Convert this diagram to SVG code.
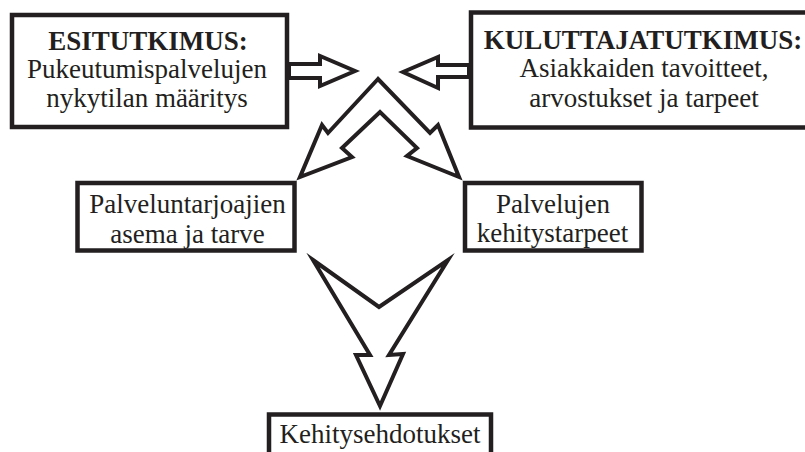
<svg xmlns="http://www.w3.org/2000/svg" width="805" height="452" viewBox="0 0 805 452">
<style>
.box{fill:#fff;stroke:#231f20;stroke-width:4.5}
.t{font-family:"Liberation Serif","Times New Roman",serif;font-size:27px;fill:#231f20;text-anchor:middle}
.b{font-weight:bold}
.arr{fill:#fff;stroke:#231f20;stroke-width:4;stroke-linejoin:miter;stroke-miterlimit:10}
</style>
<rect width="805" height="452" fill="#fff"/>
<g id="connectors">
<polygon class="arr" points="289,64 320,64 320,56 355,71 320,86 320,78 289,78"/>
<polygon class="arr" points="469,65 438,65 438,57 403,72 438,88 438,77 469,77"/>
<polygon class="arr" points="378,79 328,133 322,125 300,177 352,157 342,148 380,112 417,148 407,156 459,177 438,125 430,133"/>
<polygon class="arr" points="313,260 379,307 448,260 389,355 403,354 380,406 356,355 370,355"/>
</g>
<g id="esitutkimus">
<rect class="box" x="12" y="15" width="275" height="112"/>
<text class="t b" x="148" y="49.5">ESITUTKIMUS:</text>
<text class="t" x="147" y="78">Pukeutumispalvelujen</text>
<text class="t" x="147" y="107">nykytilan määritys</text>
</g>
<g id="kuluttajatutkimus">
<rect class="box" x="471" y="12.5" width="344" height="115"/>
<text class="t b" x="643" y="48.5">KULUTTAJATUTKIMUS:</text>
<text class="t" x="644" y="77">Asiakkaiden tavoitteet,</text>
<text class="t" x="644" y="106.5">arvostukset ja tarpeet</text>
</g>
<g id="palveluntarjoajien">
<rect class="box" x="77.5" y="183" width="217" height="67.5"/>
<text class="t" x="187.5" y="213">Palveluntarjoajien</text>
<text class="t" x="187.5" y="242.5">asema ja tarve</text>
</g>
<g id="palvelujen">
<rect class="box" x="465" y="183" width="176.5" height="67.5"/>
<text class="t" x="553" y="212.5">Palvelujen</text>
<text class="t" x="552.5" y="241.5">kehitystarpeet</text>
</g>
<g id="kehitysehdotukset">
<rect class="box" x="269" y="414.5" width="222" height="60"/>
<text class="t" x="380" y="443">Kehitysehdotukset</text>
</g>
</svg>
